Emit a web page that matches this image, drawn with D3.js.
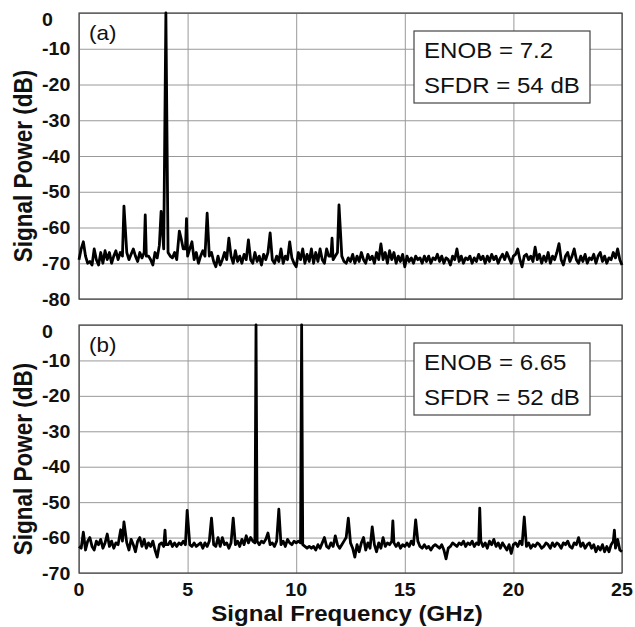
<!DOCTYPE html><html>
<head>
  <title>ADC spectra</title>
  <style>
    body { margin: 0; background: #fff; }
    svg { display: block; }
    text { font-family: "Liberation Sans", Arial, sans-serif; fill: #111; }
  </style>
</head><body>

<svg width="635" height="627"></svg>

<script src="https://cdn.jsdelivr.net/npm/d3@7"></script>
<script>
// frequency axis (GHz)
var xTicks = [0, 5, 10, 15, 20, 25];
var freqStep = 0.1;

// panel (a): single tone
var yTicksA = [0, -10, -20, -30, -40, -50, -60, -70, -80];
var noiseA = [
  -69, -66, -64, -68, -70, -69.5, -70.5, -66, -69, -70.5,
  -67, -70, -66.5, -69, -67, -70, -68, -66.5, -69, -67,
  -68, -68, -67, -69, -67.5, -66, -68, -69.5, -67, -68.5,
  -67, -68, -68, -69, -70.5, -67, -68.5, -65, -67, -66,
  -67, -67, -68, -68.5, -67, -69, -63, -63, -66, -66,
  -68, -66, -64, -69, -67, -70, -68, -66.5, -68, -67,
  -68, -67, -69.5, -71, -68, -70.5, -69, -67, -69, -68,
  -68, -70, -66.5, -69.5, -68, -70, -67.5, -69, -68, -69,
  -70, -67, -69.5, -68, -70.5, -67.5, -69, -67, -68, -69,
  -70, -68, -69.5, -66, -70, -68, -69, -68, -68.5, -70,
  -71, -67, -69, -66, -70, -67.5, -69.5, -66, -70, -67,
  -69.5, -66, -69, -70, -66, -68, -68, -69, -68, -67,
  -69, -68, -69.5, -70, -68.5, -69.5, -67.5, -70, -68, -69.5,
  -67, -69, -70, -67.5, -69, -68, -70, -67, -69, -68,
  -69, -67, -70, -66.5, -69, -67, -70, -68, -69.5, -67.5,
  -71, -68, -69.5, -68.5, -70, -68, -69, -68.5, -70, -68,
  -69.5, -68, -70, -68.5, -69, -67.5, -69.5, -68, -70, -68.5,
  -69, -70.5, -68, -69, -66, -69.5, -68, -70, -68.5, -69,
  -68, -70, -68.5, -69.5, -67.5, -69, -68, -70, -68, -69.5,
  -67.5, -69, -68, -70, -68.5, -67.5, -69, -67, -68.5, -70,
  -68, -67.5, -66, -69, -71, -68, -67.5, -69, -68, -69.5,
  -65.5, -69, -67.5, -70, -68, -69.5, -67, -70, -68, -69,
  -67, -68, -69, -70.5, -68, -67, -69.5, -68, -66, -69,
  -70, -68, -69.5, -67.5, -70, -68.5, -69, -67.5, -70, -68,
  -67, -69.5, -68, -70, -68.5, -69, -67, -68.5, -66, -69,
  -70.5
];
var spursA = [
  [2.07, -54], [3.05, -56.5], [3.78, -55.5], [4.0, 0], [4.62, -61], [4.95, -57.5],
  [5.9, -56], [6.9, -63], [7.8, -63.5], [8.8, -61.5], [9.7, -64], [11.65, -63],
  [11.97, -53.7], [13.9, -64.6], [22.1, -64.5]
];
var legendA = ["ENOB = 7.2", "SFDR = 54 dB"];

// panel (b): two tones
var yTicksB = [0, -10, -20, -30, -40, -50, -60, -70];
var noiseB = [
  -62.5, -63, -61, -63.5, -61, -60, -62.5, -63.5, -61, -62,
  -60.5, -63, -61.5, -59, -62.5, -61, -63, -61.5, -62, -61,
  -61, -61, -61.5, -63.5, -60.5, -62, -64, -61, -60, -62.5,
  -60.5, -63, -61.5, -62.5, -61, -63.5, -65.5, -62, -61.5, -62.5,
  -62, -62, -61, -62.5, -61.5, -62.5, -61.5, -62, -61, -62,
  -62, -62, -62.5, -61.5, -62.5, -62, -61.5, -63, -61.5, -62.5,
  -61, -62, -62, -62.5, -60, -62.5, -60, -62, -61.5, -63,
  -61.5, -62, -62, -61, -62.5, -60.5, -62, -59.5, -61.5, -60,
  -61, -61.5, -61, -62, -61, -61.5, -60.5, -58.7, -62, -61.5,
  -62.5, -61, -62, -62, -61, -62.5, -60.5, -61.5, -62, -61,
  -61.5, -61, -61.5, -62, -62.5, -63, -62.5, -63, -62.5, -63.5,
  -62, -63, -61.5, -60, -62.5, -63, -61.5, -62.5, -59.5, -62,
  -63, -62, -61, -60, -62, -61.5, -63, -65.5, -62, -64,
  -61.5, -60, -63.5, -61.5, -63, -62, -62, -64, -61.5, -63,
  -60, -62.5, -61.5, -62, -61, -61.5, -62.5, -61.5, -63, -62,
  -62.5, -61.5, -62.5, -61, -62, -62, -61, -62.5, -63, -62,
  -63, -62.5, -63.5, -62.5, -62, -62.5, -63, -62, -63.5, -66,
  -63, -62.5, -61.5, -62, -62.5, -61.5, -62, -61, -62.5, -61.5,
  -62, -61, -62.5, -61.5, -62, -61, -62.5, -61.5, -63, -61,
  -62, -60.5, -62.5, -61.5, -63, -61.5, -62.5, -63.5, -62, -64.5,
  -62, -61.5, -62.5, -61, -62, -62, -62.5, -61.5, -63, -62,
  -62.5, -61.5, -62, -63, -62.5, -61.5, -62, -63, -61.5, -62.5,
  -61.5, -62, -63, -61.5, -62, -61, -62.5, -63, -61.5, -62,
  -60, -62.5, -61.5, -63, -62, -61.5, -63, -62, -64, -62.5,
  -63.5, -62, -64, -62.5, -64, -62, -61, -63, -60.5, -63.5,
  -64
];
var spursB = [
  [0.2, -58.5], [1.92, -57.8], [2.07, -55.6], [3.96, -57.9], [4.98, -52.3], [6.1, -54.5],
  [7.1, -54.5], [8.15, 0], [9.2, -52], [10.25, 0], [12.4, -54.5], [13.5, -57],
  [14.45, -55.3], [15.5, -55], [18.45, -51.7], [20.5, -54.2], [24.65, -57.9]
];
var legendB = ["ENOB = 6.65", "SFDR = 52 dB"];

// the original figure is a bit wider than tall, so text is stretched sideways
var SX = 1.12;

var svg = d3.select('svg');
var x = d3.scaleLinear().domain([0, 25]).range([79, 622]);

function trace(noise, spurs) {
  var pts = noise.map(function(v, i) { return [i * freqStep, v]; })
    .filter(function(p) { return !spurs.some(function(s) { return Math.abs(s[0] - p[0]) < 0.04; }); });
  return pts.concat(spurs).sort(function(a, b) { return a[0] - b[0]; });
}

function txt(g, px, py, str, size, weight, anchor, rot) {
  return g.append('text')
    .attr('transform', 'translate(' + px + ',' + py + ') scale(' + SX + ',1)' + (rot ? ' rotate(' + rot + ')' : ''))
    .attr('font-size', size)
    .attr('font-weight', weight)
    .attr('text-anchor', anchor)
    .text(str);
}

function panel(top, bottom, yTicks, noise, spurs, tag, legend) {
  var y = d3.scaleLinear().domain([yTicks[yTicks.length - 1], 0]).range([bottom, top]);
  var g = svg.append('g');

  // grid
  g.append('g').attr('transform', 'translate(0,' + bottom + ')')
    .call(d3.axisBottom(x).tickValues(xTicks).tickSize(top - bottom).tickFormat(''))
    .call(function(a) { a.select('.domain').remove(); a.selectAll('line').attr('stroke', '#999'); });
  g.append('g').attr('transform', 'translate(79,0)')
    .call(d3.axisLeft(y).tickValues(yTicks).tickSize(79 - 622).tickFormat(''))
    .call(function(a) { a.select('.domain').remove(); a.selectAll('line').attr('stroke', '#999'); });

  // frame
  g.append('rect').attr('x', 79).attr('y', top).attr('width', 622 - 79).attr('height', bottom - top)
    .attr('fill', 'none').attr('stroke', '#444').attr('stroke-width', 1.2);

  // y tick labels, left aligned like the original
  yTicks.forEach(function(t) {
    txt(g, 42, y(t) + (t === 0 ? 13 : 6.5), t, 17.5, 'bold', 'start');
  });

  // spectrum
  var line = d3.line().x(function(d) { return x(d[0]); }).y(function(d) { return y(d[1]); });
  g.append('path').datum(trace(noise, spurs))
    .attr('d', line).attr('fill', 'none').attr('stroke', '#000')
    .attr('stroke-width', 2.8).attr('stroke-linejoin', 'round');

  // legend box
  g.append('rect').attr('x', 414).attr('y', top + 18).attr('width', 176).attr('height', 72)
    .attr('fill', '#fff').attr('stroke', '#444').attr('stroke-width', 1.2);
  txt(g, 424, top + 45, legend[0], 21.5, 'normal', 'start');
  txt(g, 424, top + 80, legend[1], 21.5, 'normal', 'start');

  txt(g, 89, top + 27, tag, 20, 'normal', 'start');
  txt(g, 32, (top + bottom) / 2 + 10, 'Signal Power (dB)', 22.5, 'bold', 'middle', -90);
  return y;
}

panel(13, 299, yTicksA, noiseA, spursA, '(a)', legendA);
panel(325, 573, yTicksB, noiseB, spursB, '(b)', legendB);

// x tick labels and title (shared, under panel b)
xTicks.forEach(function(t) {
  txt(svg, x(t), 596, t, 17.5, 'bold', 'middle');
});
txt(svg, 347, 621, 'Signal Frequency (GHz)', 21.5, 'bold', 'middle');
</script>
</body></html>
